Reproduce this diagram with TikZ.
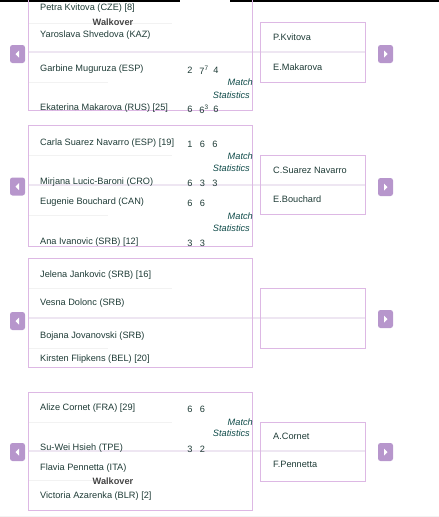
\documentclass[tikz,border=0pt]{standalone}
\usepackage{fontspec}
\setmainfont{Liberation Sans}
\definecolor{namec}{HTML}{1E3B36}
\definecolor{statc}{HTML}{0E4A48}
\definecolor{woc}{HTML}{444444}
\definecolor{boxc}{HTML}{DDB8E4}
\definecolor{sepc}{HTML}{EEE6F2}
\definecolor{faintc}{HTML}{F2F2F2}
\definecolor{btnc}{HTML}{B796CC}
\begin{document}
\begin{tikzpicture}[x=1pt,y=-1pt,
  nm/.style={anchor=west,text=namec,font=\fontsize{9.2}{11}\selectfont,inner sep=0pt},
  sc/.style={anchor=center,text=namec,font=\fontsize{9.2}{11}\selectfont,inner sep=0pt},
  st/.style={anchor=east,text=statc,font=\fontsize{9.2}{11}\selectfont\itshape,inner sep=0pt},
  wo/.style={anchor=center,text=woc,font=\fontsize{9.2}{11}\selectfont\bfseries,inner sep=0pt},
  lbox/.style={draw=boxc,line width=1pt},
  sepline/.style={draw=sepc,line width=1.5pt},
  faint/.style={draw=faintc,line width=1pt},
  btn/.style={fill=btnc,rounded corners=2.5pt,minimum width=15pt,minimum height=18pt,inner sep=0pt}
]
\useasboundingbox (0,0) rectangle (439,517);
\clip (0,0) rectangle (439,517);
% top bar
\fill[black] (0,0) rectangle (180,2);
\fill[black] (230,0) rectangle (439,2);
% bottom line
\draw[draw=faintc,line width=1pt] (0,516) -- (439,516);

% separators (behind boxes)
\foreach \y in {52,185,318,451}{
  \path[sepline] (28,\y) -- (365,\y);
}
% faint short lines
\foreach \y in {23,155,288,422}{ \path[faint] (28,\y) -- (172,\y); }
\foreach \y in {82,215,348,480}{ \path[faint] (28,\y) -- (108,\y); }

% left boxes
\path[lbox] (28,-10) rectangle (252,110);
\path[lbox] (28,125) rectangle (252,246);
\path[lbox] (28,258) rectangle (252,367);
\path[lbox] (28,392) rectangle (252,510);
% right boxes
\path[lbox] (260,22) rectangle (365,82);
\path[lbox] (260,155) rectangle (365,214);
\path[lbox] (260,288) rectangle (365,348);
\path[lbox] (260,422) rectangle (365,481);

% buttons
\foreach \n/\y in {1/54,2/186.5,3/321,4/452}{
  \node[btn] (lb\n) at (17.5,\y) {};
  \fill[white] ([xshift=-2pt]lb\n.center) -- ++(3.5,-3.5) -- ++(0,7) -- cycle;
}
\foreach \n/\y in {1/54,2/187,3/319,4/452}{
  \node[btn] (rb\n) at (385.5,\y) {};
  \fill[white] ([xshift=2pt]rb\n.center) -- ++(-3.5,-3.5) -- ++(0,7) -- cycle;
}

% box 1
\node[nm] (p1) at (40,8) {Petra Kvitova (CZE) [8]};
\node[wo] (w1) at (113,22.5) {Walkover};
\node[nm] (p2) at (40,35) {Yaroslava Shvedova (KAZ)};
\node[nm] (p3) at (40,69) {Garbine Muguruza (ESP)};
\node[sc] (s3a) at (190,70) {2};
\node[sc] (s3b) at (204,70) {7\textsuperscript{7}};
\node[sc] (s3c) at (216,70) {4};
\node[st] (m1) at (253,82) {Match};
\node[st] (t1) at (250,95) {Statistics};
\node[nm] (p4) at (40,108) {Ekaterina Makarova (RUS) [25]};
\node[sc] (s4a) at (190,109) {6};
\node[sc] (s4b) at (204,109) {6\textsuperscript{3}};
\node[sc] (s4c) at (216,109) {6};

% box 2
\node[nm] (p5) at (40,143) {Carla Suarez Navarro (ESP) [19]};
\node[sc] at (190,144) {1};
\node[sc] at (202.5,144) {6};
\node[sc] at (215,144) {6};
\node[st] (m2) at (253,156) {Match};
\node[st] (t2) at (250,168) {Statistics};
\node[nm] (p6) at (40,182) {Mirjana Lucic-Baroni (CRO)};
\node[sc] at (190,183) {6};
\node[sc] at (202.5,183) {3};
\node[sc] at (215,183) {3};
\node[nm] (p7) at (40,202) {Eugenie Bouchard (CAN)};
\node[sc] at (190,203) {6};
\node[sc] at (202.5,203) {6};
\node[st] (m3) at (253,216) {Match};
\node[st] (t3) at (250,228) {Statistics};
\node[nm] (p8) at (40,242) {Ana Ivanovic (SRB) [12]};
\node[sc] at (190,243) {3};
\node[sc] at (202.5,243) {3};

% box 3
\node[nm] (p9) at (40,275) {Jelena Jankovic (SRB) [16]};
\node[nm] (p10) at (40,303) {Vesna Dolonc (SRB)};
\node[nm] (p11) at (40,336) {Bojana Jovanovski (SRB)};
\node[nm] (p12) at (40,359) {Kirsten Flipkens (BEL) [20]};

% box 4
\node[nm] (p13) at (40,408) {Alize Cornet (FRA) [29]};
\node[sc] at (190,409) {6};
\node[sc] at (202.5,409) {6};
\node[st] (m4) at (253,422) {Match};
\node[st] (t4) at (250,433) {Statistics};
\node[nm] (p14) at (40,448) {Su-Wei Hsieh (TPE)};
\node[sc] at (190,449) {3};
\node[sc] at (202.5,449) {2};
\node[nm] (p15) at (40,468) {Flavia Pennetta (ITA)};
\node[wo] (w2) at (113,481) {Walkover};
\node[nm] (p16) at (40,496) {Victoria Azarenka (BLR) [2]};

% right names
\node[nm] (r1) at (273,37) {P.Kvitova};
\node[nm] (r2) at (273,67) {E.Makarova};
\node[nm] (r3) at (273,170) {C.Suarez Navarro};
\node[nm] (r4) at (273,199) {E.Bouchard};
\node[nm] (r5) at (273,436) {A.Cornet};
\node[nm] (r6) at (273,464) {F.Pennetta};
\end{tikzpicture}
\end{document}
